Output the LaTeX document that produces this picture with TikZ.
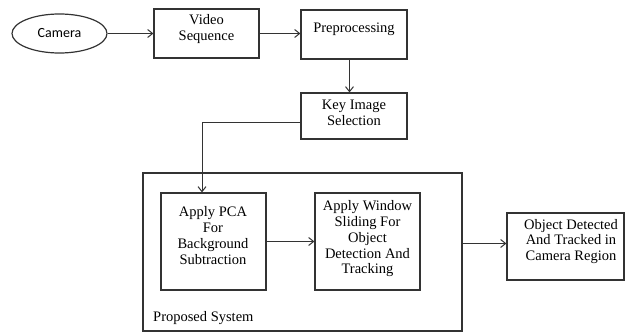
\documentclass[tikz,border=0pt]{standalone}
\usepackage{fontspec}
\setmainfont{Liberation Serif}
\newfontfamily\serfont{Liberation Serif}
\newfontfamily\camfont{Carlito}
\usetikzlibrary{shapes.geometric,arrows.meta}
\definecolor{linec}{HTML}{333333}
\tikzset{
  box/.style={draw=linec, line width=1.2pt, rectangle, inner sep=0pt},
  txt/.style={inner sep=0pt, anchor=north, align=center, font=\serfont\fontsize{14.5}{15.7}\selectfont},
  arr/.style={draw=linec, line width=1pt, -{Straight Barb[length=5pt,width=8pt]}},
  plain/.style={draw=linec, line width=1pt}
}
\begin{document}
\begin{tikzpicture}[x=1pt,y=-1pt]
\useasboundingbox (0,0) rectangle (625,332);
% boxes
\node[draw=linec, line width=1.2pt, ellipse, minimum width=95pt, minimum height=39pt, inner sep=0pt, font=\camfont\fontsize{14}{16}\selectfont] (cam) at (59.5,33.5) {Camera};
\node[box, minimum width=105pt, minimum height=49pt] (vid) at (206.5,33.5) {};
\node[box, minimum width=106pt, minimum height=49pt] (pre) at (354,34.5) {};
\node[box, minimum width=106pt, minimum height=46pt] (key) at (354,116) {};
\node[box, minimum width=319pt, minimum height=158pt] (outer) at (302.5,252) {};
\node[box, minimum width=105pt, minimum height=97pt] (pca) at (213.5,241.5) {};
\node[box, minimum width=105pt, minimum height=97pt] (win) at (367.5,241.5) {};
\node[box, minimum width=117pt, minimum height=67pt] (obj) at (565.5,246.5) {};
% texts
\node[txt] (vidt) at (206.5,14.7) {Video\\Sequence};
\node[txt] (pret) at (354,22.3) {Preprocessing};
\node[txt] (keyt) at (354,100) {Key Image\\Selection};
\node[txt] (pcat) at (213,206.7) {Apply PCA\\For\\Background\\Subtraction};
\node[txt] (wint) at (367.5,200.7) {Apply Window\\Sliding For\\Object\\Detection And\\Tracking};
\node[txt] (objt) at (571,219) {Object Detected\\And Tracked in\\Camera Region};
\node[inner sep=0pt, anchor=base west, font=\serfont\fontsize{14.5}{15.7}\selectfont] (prop) at (153,321) {Proposed System};
% connectors
\draw[arr] (cam.east) -- (vid.west |- cam.east);
\draw[arr] (vid.east) -- (pre.west |- vid.east);
\draw[arr] ([xshift=-4.5pt]pre.south) -- ([xshift=-4.5pt]key.north);
\draw[arr] ([yshift=-6pt]key.west) -| ([xshift=-11.5pt]pca.north);
\draw[arr] (pca.east) -- (win.west);
\coordinate (oin) at ([yshift=3pt]obj.west);
\draw[arr] (outer.east |- oin) -- (oin);
\end{tikzpicture}
\end{document}
